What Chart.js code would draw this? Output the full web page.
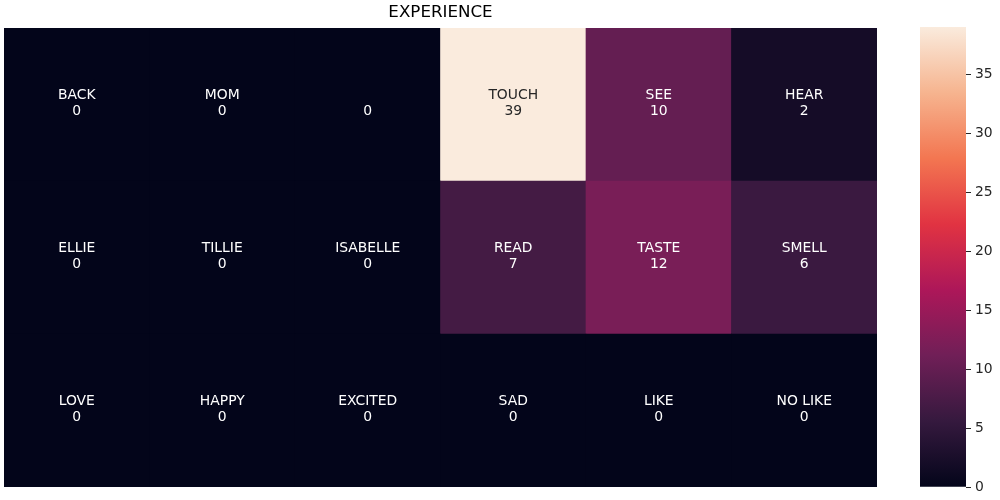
<!DOCTYPE html>
<html lang="en">
<head>
    <meta charset="UTF-8">
    <title>EXPERIENCE</title>
    <style>
        body {
            margin: 0;
            padding: 0;
            background-color: #fff;
        }
        .wrap {
            position: relative;
            width: 1000px;
            height: 500px;
        }
        #heatmap {
            position: absolute;
            left: 0;
            top: 0;
        }
        #colorbar {
            position: absolute;
            left: 900px;
            top: 0;
        }
    </style>
</head>
<body>
    <div class="wrap">
        <canvas id="heatmap" width="881" height="500"></canvas>
        <canvas id="colorbar" width="100" height="500"></canvas>
    </div>
    <script src="https://cdn.jsdelivr.net/npm/chart.js@4.4.0/dist/chart.umd.min.js"></script>
    <script>
        // cell words and counts, top row first
        const columns = ['c1', 'c2', 'c3', 'c4', 'c5', 'c6'];
        const rowWords = [
            ['BACK', 'MOM', '', 'TOUCH', 'SEE', 'HEAR'],
            ['ELLIE', 'TILLIE', 'ISABELLE', 'READ', 'TASTE', 'SMELL'],
            ['LOVE', 'HAPPY', 'EXCITED', 'SAD', 'LIKE', 'NO LIKE']
        ];
        const rowCounts = [
            [0, 0, 0, 39, 10, 2],
            [0, 0, 0, 7, 12, 6],
            [0, 0, 0, 0, 0, 0]
        ];
        const vmin = 0;
        const vmax = 39;
        const barTicks = [0, 5, 10, 15, 20, 25, 30, 35];

        // approximation of seaborn "rocket"
        const rocket = [
            [0.0, [3, 5, 26]],
            [1 / 7, [53, 25, 62]],
            [2 / 7, [112, 31, 87]],
            [3 / 7, [173, 23, 89]],
            [4 / 7, [225, 51, 66]],
            [5 / 7, [243, 118, 81]],
            [6 / 7, [246, 180, 143]],
            [1.0, [250, 235, 221]]
        ];

        function rocketRgb(t) {
            t = Math.max(0, Math.min(1, t));
            for (let i = 1; i < rocket.length; i++) {
                if (t <= rocket[i][0]) {
                    const [t0, c0] = rocket[i - 1];
                    const [t1, c1] = rocket[i];
                    const f = (t - t0) / (t1 - t0);
                    return c0.map((v, k) => Math.round(v + (c1[k] - v) * f));
                }
            }
            return rocket[rocket.length - 1][1];
        }

        function cellColor(v) {
            const c = rocketRgb((v - vmin) / (vmax - vmin));
            return `rgb(${c[0]}, ${c[1]}, ${c[2]})`;
        }

        function textColor(v) {
            const c = rocketRgb((v - vmin) / (vmax - vmin)).map(x => {
                x = x / 255;
                return x <= 0.03928 ? x / 12.92 : Math.pow((x + 0.055) / 1.055, 2.4);
            });
            const lum = 0.2126 * c[0] + 0.7152 * c[1] + 0.0722 * c[2];
            return lum > 0.408 ? '#262626' : '#ffffff';
        }

        const font = "'DejaVu Sans', sans-serif";

        // bottom row is stacked first
        const rowOrder = [2, 1, 0];
        const datasets = rowOrder.map(r => ({
            label: 'row' + r,
            data: rowCounts[r].map(() => 1),
            backgroundColor: rowCounts[r].map(cellColor),
            words: rowWords[r],
            counts: rowCounts[r],
            borderWidth: 0,
            barPercentage: 1,
            categoryPercentage: 1
        }));

        const cellBackground = {
            id: 'cellBackground',
            beforeDatasetsDraw(chart) {
                const a = chart.chartArea;
                const ctx = chart.ctx;
                ctx.save();
                ctx.fillStyle = cellColor(vmin);
                ctx.fillRect(a.left, a.top, a.right - a.left, a.bottom - a.top);
                ctx.restore();
            }
        };

        const cellLabels = {
            id: 'cellLabels',
            afterDatasetsDraw(chart) {
                const ctx = chart.ctx;
                ctx.save();
                ctx.font = "13.9px " + font;
                ctx.textAlign = 'center';
                ctx.textBaseline = 'middle';
                chart.data.datasets.forEach((ds, i) => {
                    chart.getDatasetMeta(i).data.forEach((bar, j) => {
                        const cy = (bar.y + bar.base) / 2;
                        ctx.fillStyle = textColor(ds.counts[j]);
                        ctx.fillText(ds.words[j], bar.x, cy - 9);
                        ctx.fillText(String(ds.counts[j]), bar.x, cy + 7);
                    });
                });
                ctx.restore();
            }
        };

        new Chart(document.getElementById('heatmap'), {
            type: 'bar',
            data: { labels: columns, datasets: datasets },
            options: {
                responsive: false,
                animation: false,
                layout: { padding: { left: 4, right: 4, top: 0, bottom: 13 } },
                scales: {
                    x: { display: false, stacked: true },
                    y: { display: false, stacked: true, min: 0, max: rowWords.length }
                },
                plugins: {
                    legend: { display: false },
                    tooltip: { enabled: false },
                    title: {
                        display: true,
                        text: 'EXPERIENCE',
                        color: '#000',
                        font: { family: font, size: 16.7, weight: 'normal' },
                        padding: { top: 3, bottom: 5 }
                    }
                }
            },
            plugins: [cellBackground, cellLabels]
        });

        // colour bar
        function barGradient(context) {
            const chart = context.chart;
            if (!chart.chartArea) return cellColor(vmin);
            const y = chart.scales.y;
            const g = chart.ctx.createLinearGradient(0, y.getPixelForValue(vmin), 0, y.getPixelForValue(vmax));
            rocket.forEach(([t, c]) => g.addColorStop(t, `rgb(${c[0]}, ${c[1]}, ${c[2]})`));
            return g;
        }

        new Chart(document.getElementById('colorbar'), {
            type: 'bar',
            data: {
                labels: ['scale'],
                datasets: [{
                    data: [[vmin, vmax]],
                    backgroundColor: barGradient,
                    borderWidth: 0,
                    barPercentage: 1,
                    categoryPercentage: 1
                }]
            },
            options: {
                responsive: false,
                animation: false,
                layout: { padding: { left: 20, right: 0, top: 27, bottom: 13 } },
                scales: {
                    x: { display: false },
                    y: {
                        position: 'right',
                        min: vmin,
                        max: vmax,
                        afterBuildTicks: s => { s.ticks = barTicks.map(v => ({ value: v })); },
                        afterFit: s => { s.width = 34; },
                        border: { display: false },
                        grid: {
                            drawOnChartArea: false,
                            drawTicks: true,
                            tickLength: 5,
                            color: '#262626',
                            lineWidth: 1
                        },
                        ticks: {
                            color: '#262626',
                            padding: 4,
                            font: { family: font, size: 13.9 }
                        }
                    }
                },
                plugins: {
                    legend: { display: false },
                    tooltip: { enabled: false }
                }
            }
        });
    </script>
</body>
</html>
